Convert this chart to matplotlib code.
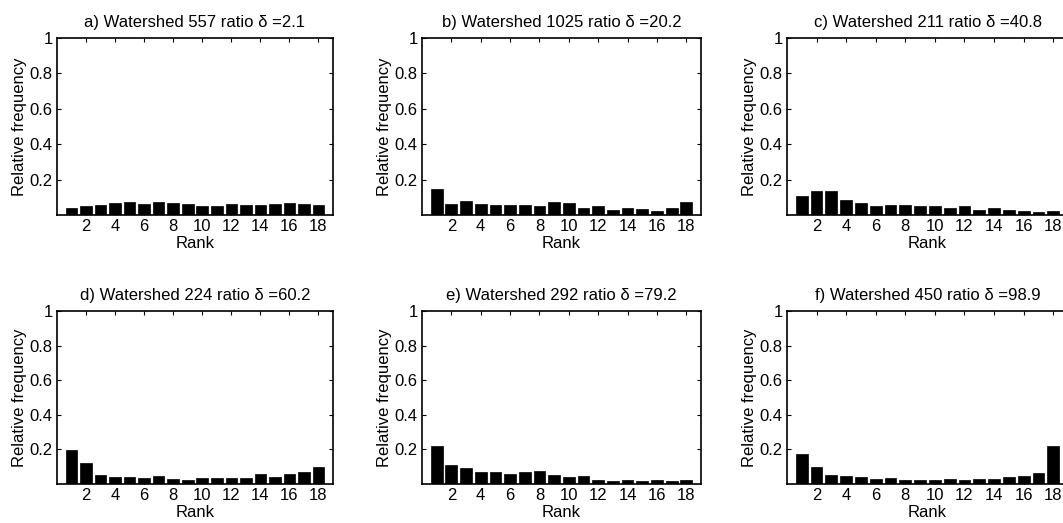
import matplotlib
matplotlib.use('Agg')
import matplotlib.pyplot as plt

plt.rcParams['font.family'] = ['Liberation Sans', 'DejaVu Sans']
plt.rcParams['font.size'] = 12

ranks = list(range(1, 19))

titles = [
    'a) Watershed 557 ratio δ =2.1',
    'b) Watershed 1025 ratio δ =20.2',
    'c) Watershed 211 ratio δ =40.8',
    'd) Watershed 224 ratio δ =60.2',
    'e) Watershed 292 ratio δ =79.2',
    'f) Watershed 450 ratio δ =98.9',
]

freq_a = [0.041, 0.050, 0.056, 0.069, 0.073, 0.064, 0.071, 0.069, 0.062,
          0.052, 0.052, 0.060, 0.058, 0.058, 0.060, 0.065, 0.060, 0.058]
freq_b = [0.149, 0.064, 0.079, 0.062, 0.055, 0.058, 0.058, 0.053, 0.072,
          0.068, 0.038, 0.051, 0.030, 0.038, 0.036, 0.023, 0.038, 0.072]
freq_c = [0.105, 0.134, 0.134, 0.087, 0.068, 0.051, 0.055, 0.055, 0.051,
          0.051, 0.040, 0.049, 0.028, 0.041, 0.026, 0.023, 0.019, 0.023]
freq_d = [0.194, 0.123, 0.050, 0.042, 0.038, 0.033, 0.044, 0.027, 0.021,
          0.033, 0.033, 0.035, 0.035, 0.056, 0.038, 0.056, 0.067, 0.098]
freq_e = [0.217, 0.108, 0.090, 0.067, 0.067, 0.056, 0.069, 0.075, 0.050,
          0.038, 0.044, 0.021, 0.019, 0.021, 0.017, 0.023, 0.017, 0.025]
freq_f = [0.175, 0.098, 0.054, 0.048, 0.042, 0.031, 0.033, 0.021, 0.023,
          0.023, 0.027, 0.023, 0.031, 0.031, 0.038, 0.046, 0.065, 0.219]

series = [freq_a, freq_b, freq_c, freq_d, freq_e, freq_f]

W, H = 1063, 523
fig = plt.figure(figsize=(W / 100, H / 100), dpi=100)

col_lr = [(57, 333), (422, 701), (787, 1068)]
row_tb = [(38, 215), (311, 484)]

for i, (freq, title) in enumerate(zip(series, titles)):
    l, r = col_lr[i % 3]
    t, b = row_tb[i // 3]
    ax = fig.add_axes([l / W, 1 - b / H, (r - l) / W, (b - t) / H])
    ax.bar(ranks, freq, width=0.8, color='black', edgecolor='black', linewidth=0.5)
    ax.set_xlim(0, 19)
    ax.set_ylim(0, 1)
    ax.set_xticks(range(2, 19, 2))
    ax.set_yticks([0.2, 0.4, 0.6, 0.8, 1.0])
    ax.set_yticklabels(['0.2', '0.4', '0.6', '0.8', '1'])
    ax.tick_params(direction='in', length=3, width=0.8, top=True, right=True, pad=3)
    for s in ax.spines.values():
        s.set_linewidth(1.2)
    ax.set_title(title, fontsize=12, pad=8)
    ax.set_xlabel('Rank', labelpad=1.5)
    ax.set_ylabel('Relative frequency', labelpad=2)

fig.savefig('out.png', dpi=100)
